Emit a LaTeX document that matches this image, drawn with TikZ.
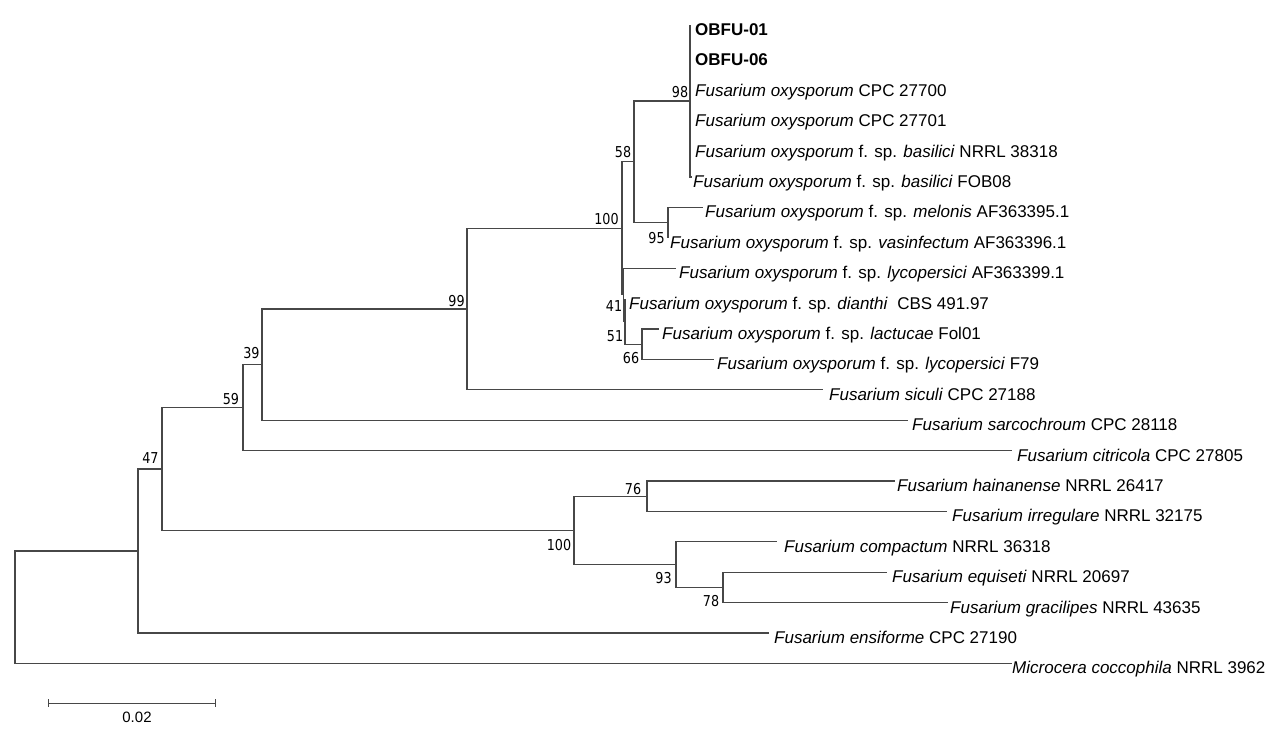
\documentclass[tikz,border=0pt]{standalone}
\usepackage{fontspec}
\setmainfont{Liberation Sans}
\newfontfamily\supfam[FakeStretch=0.85]{DejaVu Sans}
\begin{document}
\begin{tikzpicture}[x=1pt,y=-1pt,
  br/.style={draw=black!72, line width=1.3pt, line join=miter},
  leaf/.style={anchor=base west, inner sep=0pt, font=\fontsize{17}{20}\selectfont},
  sup/.style={inner sep=0pt, font=\supfam\fontsize{15}{17}\selectfont},
  scl/.style={inner sep=0pt, font=\fontsize{15}{17}\selectfont}]
\useasboundingbox (0,0) rectangle (1283,739);
\fill[white] (0,0) rectangle (1283,739);
% internal nodes
\coordinate (root) at (15,607.2);
\coordinate (nE) at (138,551);
\coordinate (n47) at (162,469);
\coordinate (n59) at (243,407.6);
\coordinate (n39) at (262,364.6);
\coordinate (n99) at (467,309);
\coordinate (n100a) at (622,228.3);
\coordinate (n58) at (634,161.8);
\coordinate (n98) at (690,101);
\coordinate (n95) at (668,222.6);
\coordinate (n41) at (623.5,294.8);
\coordinate (n51) at (625,321.4);
\coordinate (n66) at (642,344.2);
\coordinate (n100b) at (574,530.4);
\coordinate (n76) at (647,496.2);
\coordinate (n93) at (676,564.6);
\coordinate (n78) at (723,587.4);
% leaves
\coordinate (l0) at (690,25);
\coordinate (l1) at (690,55.4);
\coordinate (l2) at (690,85.8);
\coordinate (l3) at (690,116.2);
\coordinate (l4) at (690,146.6);
\coordinate (l5) at (692,177);
\coordinate (l6) at (703,207.4);
\coordinate (l7) at (668,237.8);
\coordinate (l8) at (676,268.2);
\coordinate (l9) at (625,298.6);
\coordinate (l10) at (659,329);
\coordinate (l11) at (714,359.4);
\coordinate (l12) at (823,389.8);
\coordinate (l13) at (908,420.2);
\coordinate (l14) at (1012,450.6);
\coordinate (l15) at (895,481);
\coordinate (l16) at (947,511.4);
\coordinate (l17) at (777,541.8);
\coordinate (l18) at (887,572.2);
\coordinate (l19) at (948,602.6);
\coordinate (l20) at (769,633);
\coordinate (l21) at (1012,663.4);
% branches
\draw[br] (root) |- (nE);
\draw[br] (root) |- (l21);
\draw[br] (nE) |- (n47);
\draw[br] (nE) |- (l20);
\draw[br] (n47) |- (n59);
\draw[br] (n47) |- (n100b);
\draw[br] (n59) |- (n39);
\draw[br] (n59) |- (l14);
\draw[br] (n39) |- (n99);
\draw[br] (n39) |- (l13);
\draw[br] (n99) |- (n100a);
\draw[br] (n99) |- (l12);
\draw[br] (n100a) |- (n58);
\draw[br] (n100a) |- (n41);
\draw[br] (n58) |- (n98);
\draw[br] (n58) |- (n95);
\draw[br] (n98) |- (l0);
\draw[br] (n98) |- (l1);
\draw[br] (n98) |- (l2);
\draw[br] (n98) |- (l3);
\draw[br] (n98) |- (l4);
\draw[br] (n98) |- (l5);
\draw[br] (n95) |- (l6);
\draw[br] (n95) |- (l7);
\draw[br] (n41) |- (l8);
\draw[br] (n41) |- (n51);
\draw[br] (n51) |- (l9);
\draw[br] (n51) |- (n66);
\draw[br] (n66) |- (l10);
\draw[br] (n66) |- (l11);
\draw[br] (n100b) |- (n76);
\draw[br] (n100b) |- (n93);
\draw[br] (n76) |- (l15);
\draw[br] (n76) |- (l16);
\draw[br] (n93) |- (l17);
\draw[br] (n93) |- (n78);
\draw[br] (n78) |- (l18);
\draw[br] (n78) |- (l19);
% leaf labels
\node[leaf] (t0) at (695,35.5) {\textbf{OBFU-01}};
\node[leaf] (t1) at (695,65.9) {\textbf{OBFU-06}};
\node[leaf] (t2) at (695,96.3) {\textit{Fusarium oxysporum} CPC 27700};
\node[leaf] (t3) at (695,126.7) {\textit{Fusarium oxysporum} CPC 27701};
\node[leaf] (t4) at (695,157.1) {\textit{Fusarium oxysporum} f. sp. \textit{basilici} NRRL 38318};
\node[leaf] (t5) at (693,187.5) {\textit{Fusarium oxysporum} f. sp. \textit{basilici} FOB08};
\node[leaf] (t6) at (705,217.9) {\textit{Fusarium oxysporum} f. sp. \textit{melonis} AF363395.1};
\node[leaf] (t7) at (670,248.3) {\textit{Fusarium oxysporum} f. sp. \textit{vasinfectum} AF363396.1};
\node[leaf] (t8) at (679,278.7) {\textit{Fusarium oxysporum} f. sp. \textit{lycopersici} AF363399.1};
\node[leaf] (t9) at (629,309.1) {\textit{Fusarium oxysporum} f. sp. \textit{dianthi}\ \ CBS 491.97};
\node[leaf] (t10) at (662,339.5) {\textit{Fusarium oxysporum} f. sp. \textit{lactucae} Fol01};
\node[leaf] (t11) at (717,369.9) {\textit{Fusarium oxysporum} f. sp. \textit{lycopersici} F79};
\node[leaf] (t12) at (829,400.3) {\textit{Fusarium siculi} CPC 27188};
\node[leaf] (t13) at (912,430.7) {\textit{Fusarium sarcochroum} CPC 28118};
\node[leaf] (t14) at (1017,461.1) {\textit{Fusarium citricola} CPC 27805};
\node[leaf] (t15) at (897,491.5) {\textit{Fusarium hainanense} NRRL 26417};
\node[leaf] (t16) at (952,521.9) {\textit{Fusarium irregulare} NRRL 32175};
\node[leaf] (t17) at (784,552.3) {\textit{Fusarium compactum} NRRL 36318};
\node[leaf] (t18) at (892,582.7) {\textit{Fusarium equiseti} NRRL 20697};
\node[leaf] (t19) at (950,613.1) {\textit{Fusarium gracilipes} NRRL 43635};
\node[leaf] (t20) at (774,643.5) {\textit{Fusarium ensiforme} CPC 27190};
\node[leaf] (t21) at (1012,673.9) {\textit{Microcera coccophila} NRRL 3962};
% support values
\node[sup] (s98) at (680,92.5) {98};
\node[sup] (s58) at (623,152) {58};
\node[sup] (s100a) at (606.5,219) {100};
\node[sup] (s95) at (656.5,238) {95};
\node[sup] (s41) at (614,306) {41};
\node[sup] (s51) at (615,336) {51};
\node[sup] (s66) at (631,358) {66};
\node[sup] (s99) at (456.5,301) {99};
\node[sup] (s39) at (251.5,353) {39};
\node[sup] (s59) at (231,399.5) {59};
\node[sup] (s47) at (150.5,458.5) {47};
\node[sup] (s76) at (633,489) {76};
\node[sup] (s100b) at (559,545.5) {100};
\node[sup] (s93) at (663.5,578) {93};
\node[sup] (s78) at (711,601) {78};
% scale bar
\coordinate (sb1) at (48,703);
\coordinate (sb2) at (215,703);
\draw[br, line width=1pt] (sb1) -- (sb2);
\draw[br, line width=1pt] (sb1) ++(0,-4) -- ++(0,8);
\draw[br, line width=1pt] (sb2) ++(0,-4) -- ++(0,8);
\node[scl] (sbl) at (137,717) {0.02};
\end{tikzpicture}
\end{document}
